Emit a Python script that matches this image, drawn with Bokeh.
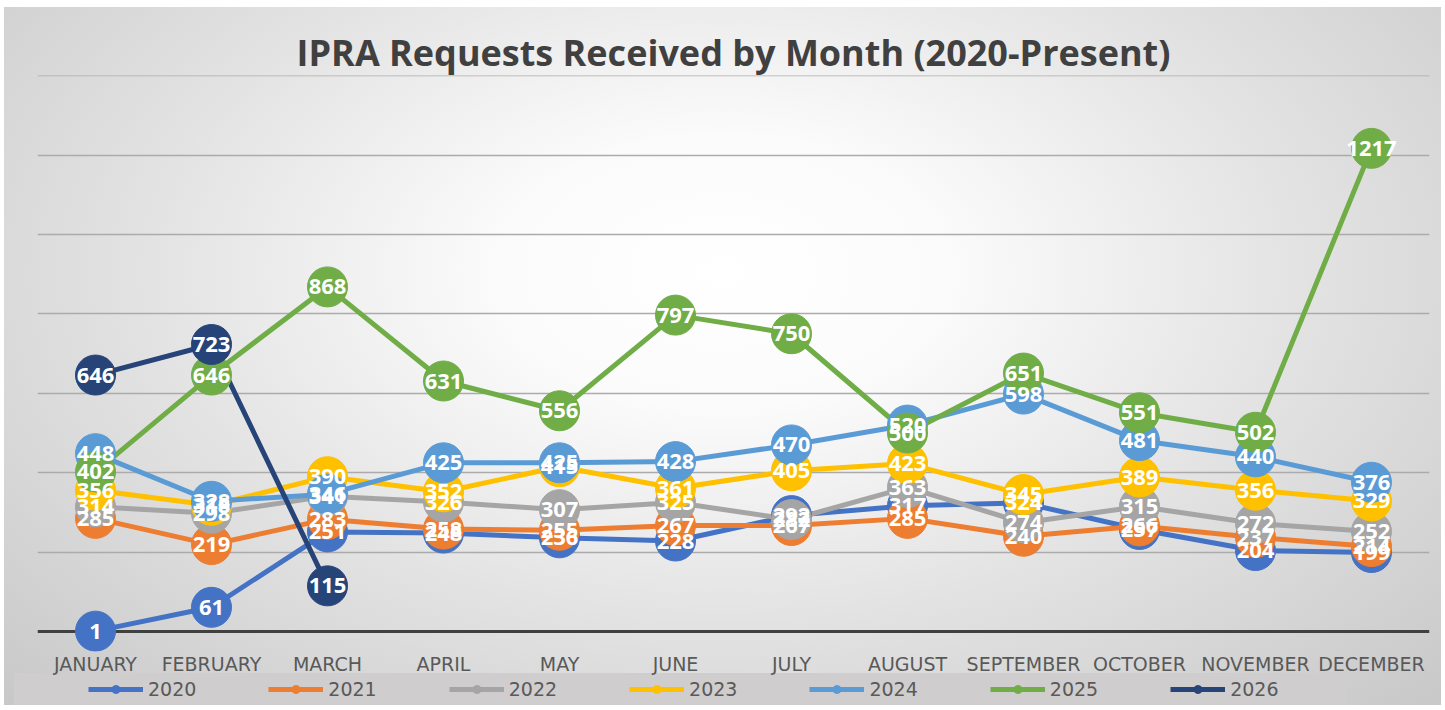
from bokeh.plotting import figure
from bokeh.layouts import column
from bokeh.models import FixedTicker, Span, Legend, LegendItem
from bokeh.core.properties import value
from bokeh.embed import file_html
from bokeh.resources import INLINE

months = ["JANUARY", "FEBRUARY", "MARCH", "APRIL", "MAY", "JUNE", "JULY",
          "AUGUST", "SEPTEMBER", "OCTOBER", "NOVEMBER", "DECEMBER"]
years = ["2020", "2021", "2022", "2023", "2024", "2025", "2026"]

s2020 = [1, 61, 251, 248, 236, 228, 292, 317, 324, 257, 204, 199]
s2021 = [285, 219, 283, 258, 255, 267, 267, 285, 240, 266, 237, 214]
s2022 = [314, 298, 341, 326, 307, 325, 282, 363, 274, 315, 272, 252]
s2023 = [356, 318, 390, 352, 415, 361, 405, 423, 345, 389, 356, 329]
s2024 = [448, 328, 346, 425, 425, 428, 470, 520, 598, 481, 440, 376]
s2025 = [402, 646, 868, 631, 556, 797, 750, 500, 651, 551, 502, 1217]
s2026 = [646, 723, 115]

series = [s2020, s2021, s2022, s2023, s2024, s2025, s2026]
colors = ["#4472C4", "#ED7D31", "#A5A5A5", "#FFC000", "#5B9BD5", "#70AD47", "#264478"]
grid_ticks = [200, 400, 600, 800, 1000, 1200, 1400]

# ---- main chart ----
p = figure(x_range=months, y_range=(-50.3, 1400.5), width=1445, height=677,
           output_backend="svg", toolbar_location=None,
           min_border_left=37, min_border_right=16, min_border_top=75, min_border_bottom=23)
p.border_fill_alpha = 0
p.background_fill_alpha = 0
p.outline_line_color = None

p.title.text = "IPRA Requests Received by Month (2020-Present)"
p.title.align = "center"
p.title.text_font = "Open Sans"
p.title.text_font_style = "bold"
p.title.text_font_size = "36px"
p.title.text_color = "#404040"
p.title.standoff = -3

p.yaxis.visible = False
p.xgrid.visible = False
p.ygrid.ticker = FixedTicker(ticks=grid_ticks)
p.ygrid.grid_line_color = "#ababab"
p.ygrid.grid_line_width = 1.5

p.xaxis.axis_line_color = None
p.xaxis.major_tick_line_color = None
p.xaxis.major_tick_out = 0
p.xaxis.major_label_standoff = 1
p.xaxis.major_label_text_font = "DejaVu Sans"
p.xaxis.major_label_text_font_size = "19px"
p.xaxis.major_label_text_color = "#595959"

zero = Span(location=0, dimension="width", line_color="#404040", line_width=3, level="underlay")
p.add_layout(zero)

for vals, c in zip(series, colors):
    p.line(x=months[:len(vals)], y=vals, line_color=c, line_width=5)

for vals, c in zip(series, colors):
    p.scatter(x=months[:len(vals)], y=vals, size=40, fill_color=c, line_color=c)

for vals in series:
    p.text(x=months[:len(vals)], y=vals, text=[str(v) for v in vals],
           text_color="white", text_font=value("Open Sans"), text_font_style="bold",
           text_font_size="22px", text_align="center", text_baseline="middle")

# ---- legend strip ----
lg = figure(x_range=(0, 1), y_range=(0, 1), width=1445, height=33,
            output_backend="svg", toolbar_location=None,
            min_border_left=37, min_border_right=16, min_border_top=0, min_border_bottom=0)
lg.border_fill_alpha = 0
lg.background_fill_alpha = 0
lg.outline_line_color = None
lg.axis.visible = False
lg.grid.visible = False

items = []
for yr, c in zip(years, colors):
    lr = lg.line(x=[-5, -4], y=[-5, -5], line_color=c, line_width=5)
    mr = lg.scatter(x=[-5], y=[-5], size=10, fill_color=c, line_color=c)
    items.append(LegendItem(label=yr, renderers=[lr, mr]))

legend = Legend(items=items, orientation="horizontal", location=(48, 7),
                spacing=72, glyph_width=55, glyph_height=20, label_standoff=5,
                label_text_font="DejaVu Sans", label_text_font_size="19px",
                label_text_color="#595959", background_fill_alpha=0,
                border_line_alpha=0, padding=3, margin=0)
lg.add_layout(legend)

layout = column(p, lg, spacing=0)
layout.styles = {
    "background": "linear-gradient(#cfcdcd,#cfcdcd) 14px 673px / 1332px 32px no-repeat, "
                  "radial-gradient(ellipse at 50% 38%, #ffffff 0%, #fbfbfb 22%, #e2e2e2 58%, #c8c8c8 100%) "
                  "4px 7px / 1437px 698px no-repeat, #ffffff"
}

open("out.html", "w").write(file_html(layout, INLINE))
